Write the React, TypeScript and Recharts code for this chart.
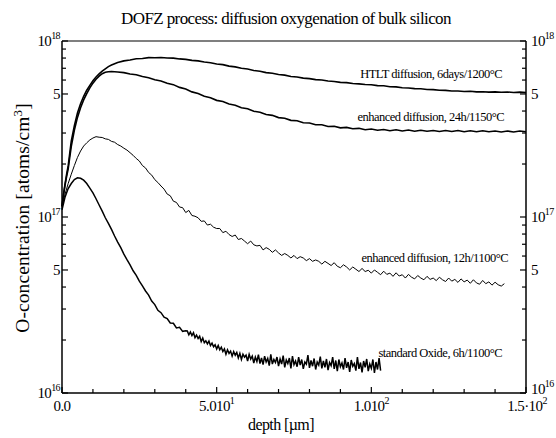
import React from 'react';
import { LineChart, Line, XAxis, YAxis } from 'recharts';

// depth in µm, O-concentration in units of 1e16 atoms/cm³
const topDepth = [
  0, 0.5, 1, 1.5, 2, 2.5, 3, 4, 5, 6, 7, 8, 9, 10, 11, 12, 13, 14, 15, 16,
  18, 20, 22, 24, 26, 28, 30, 32, 34, 36, 38, 40, 42, 44, 46, 48, 50, 52, 54, 56,
  58, 60, 62, 64, 66, 68, 70, 72, 74, 76, 78, 80, 82, 84, 86, 88, 90, 92, 94, 96,
  98, 100, 102, 104, 106, 108, 110, 112, 114, 116, 118, 120, 122, 124, 126, 128, 130, 132, 134, 136,
  138, 140, 142, 144, 146, 148, 150,
];

const htltValues = [
  11.5, 13.5, 15.5, 17.5, 19.5, 23, 27, 33, 39, 44, 48.5, 52.5, 56, 59.5, 62.5, 65, 67.5, 69.5, 71.5, 73,
  75.4, 77.1, 78.0, 79.3, 79.6, 80.4, 80.3, 80.6, 80.1, 79.9, 79.1, 78.6, 77.6, 77.1, 76.0, 75.3, 74.0, 73.4, 72.0, 71.3,
  70.0, 69.3, 68.0, 67.3, 66.1, 65.6, 64.5, 64.0, 62.9, 62.4, 61.5, 61.1, 60.3, 60.0, 59.2, 58.9, 58.2, 58.0, 57.3, 57.1,
  56.6, 56.4, 55.8, 55.7, 55.0, 54.9, 54.3, 54.1, 53.6, 53.5, 53.0, 52.9, 52.5, 52.4, 52.0, 52.0, 51.7, 51.8, 51.4, 51.5,
  51.2, 51.4, 51.1, 51.3, 51.0, 51.2, 50.9,
];

const enh24Values = [
  11.5, 13.4, 15.2, 17.0, 18.8, 21.8, 25.2, 31.2, 36.8, 41.8, 46.3, 50.3, 54.2, 57.6, 60.6, 63.2, 65.2, 66.4, 66.9, 67.1,
  66.6, 66.1, 65.0, 64.3, 62.8, 61.9, 60.3, 59.3, 57.6, 56.5, 54.5, 53.3, 51.4, 50.3, 48.5, 47.6, 46.0, 45.3, 43.8, 43.2,
  41.8, 41.2, 39.9, 39.4, 38.2, 37.8, 36.7, 36.4, 35.4, 35.2, 34.3, 34.2, 33.4, 33.4, 32.7, 32.8, 32.1, 32.3, 31.7, 31.9,
  31.3, 31.6, 31.1, 31.4, 30.9, 31.3, 30.8, 31.2, 30.7, 31.1, 30.7, 31.0, 30.6, 31.0, 30.6, 31.0, 30.5, 30.9, 30.5, 30.9,
  30.5, 30.8, 30.4, 30.8, 30.4, 30.8, 30.5,
];

// sampled every 1 µm from 0
const enh12Values = [
  11.5, 13.5, 15.5, 17.5, 19.6, 21.8, 23.7, 25.3, 26.4, 27.4,
  28.1, 28.6, 28.4, 28.3, 27.8, 27.6, 26.9, 26.6, 25.8, 25.3,
  24.6, 24.0, 23.2, 22.4, 21.5, 20.8, 19.6, 19.0, 17.9, 17.3,
  16.3, 15.7, 15.0, 14.4, 13.5, 13.2, 12.3, 12.1, 11.4, 11.3,
  10.6, 10.9, 10.2, 10.1, 9.9, 9.45, 9.5, 9.0, 9.1, 8.75,
  8.6, 8.6, 8.15, 8.3, 7.95, 7.75, 7.9, 7.45, 7.55, 7.3,
  7.05, 7.3, 6.95, 6.85, 6.9, 6.5, 6.7, 6.55, 6.3, 6.5,
  6.25, 6.05, 6.2, 6.05, 5.85, 6.05, 5.8, 5.95, 5.85, 5.65,
  5.8, 5.6, 5.7, 5.6, 5.4, 5.6, 5.45, 5.3, 5.5, 5.25,
  5.15, 5.35, 5.2, 5.0, 5.2, 5.05, 4.9, 5.1, 4.9, 4.98,
  4.8, 5.0, 4.85, 4.7, 4.92, 4.72, 4.8, 4.6, 4.82, 4.62,
  4.7, 4.5, 4.72, 4.55, 4.45, 4.65, 4.5, 4.4, 4.6, 4.42,
  4.5, 4.35, 4.55, 4.4, 4.3, 4.5, 4.32, 4.42, 4.25, 4.45,
  4.28, 4.38, 4.2, 4.4, 4.22, 4.15, 4.36, 4.18, 4.28, 4.1,
  4.26, 4.12, 4.05, 4.18,
];

// sampled every 1 µm up to 40 µm, then every 0.5 µm
const stdValues = [
  11.0, 13.0, 14.5, 15.5, 16.3, 16.7, 16.6, 16.2, 15.5, 14.6,
  13.7, 12.7, 11.7, 10.8, 9.9, 9.2, 8.5, 7.8, 7.2, 6.7,
  6.15, 5.72, 5.35, 4.95, 4.66, 4.32, 4.06, 3.8, 3.6, 3.33,
  3.18, 2.95, 2.86, 2.7, 2.65, 2.5, 2.49, 2.34, 2.36, 2.24,
  2.26,
  2.25, 2.14, 2.22, 2.12, 2.2, 2.06, 2.13, 2.04, 2.1, 1.96,
  2.05, 1.93, 1.98, 1.9, 1.97, 1.86, 1.92, 1.83, 1.88, 1.78,
  1.86, 1.76, 1.82, 1.72, 1.78, 1.66, 1.76, 1.68, 1.73, 1.62,
  1.72, 1.64, 1.7, 1.58, 1.68, 1.55, 1.66, 1.6, 1.64, 1.52,
  1.66, 1.56, 1.62, 1.48, 1.6, 1.51, 1.65, 1.47, 1.58, 1.45,
  1.62, 1.5, 1.57, 1.43, 1.66, 1.46, 1.55, 1.49, 1.6, 1.42,
  1.56, 1.46, 1.63, 1.4, 1.54, 1.47, 1.58, 1.38, 1.62, 1.45,
  1.52, 1.41, 1.6, 1.44, 1.55, 1.37, 1.5, 1.46, 1.64, 1.39,
  1.53, 1.42, 1.57, 1.36, 1.5, 1.44, 1.61, 1.38, 1.52, 1.4,
  1.56, 1.35, 1.49, 1.43, 1.6, 1.37, 1.53, 1.33, 1.55, 1.41,
  1.48, 1.36, 1.58, 1.39, 1.5, 1.32, 1.54, 1.42, 1.47, 1.34,
  1.6, 1.37, 1.49, 1.31, 1.52, 1.4, 1.56, 1.33, 1.46, 1.38,
  1.55, 1.3, 1.5, 1.36, 1.58, 1.34,
];

const xTicks = [0, 10, 20, 30, 40, 50, 60, 70, 80, 90, 100, 110, 120, 130, 140, 150];
const xLabels: Record<number, [string, string]> = { 0: ['0.0', ''], 50: ['5.010', '1'], 100: ['1.010', '2'], 150: ['1.5·10', '2'] };
const yTicks = [1, 2, 3, 4, 5, 6, 7, 8, 9, 10, 20, 30, 40, 50, 60, 70, 80, 90, 100];
const yLabels: Record<number, [string, string]> = { 1: ['10', '16'], 5: ['5', ''], 10: ['10', '17'], 50: ['5', ''], 100: ['10', '18'] };

const curveLabels = [
  { text: 'HTLT diffusion, 6days/1200°C', x: 502, y: 78 },
  { text: 'enhanced diffusion, 24h/1150°C', x: 504, y: 121 },
  { text: 'enhanced diffusion, 12h/1100°C', x: 508, y: 262 },
  { text: 'standard Oxide, 6h/1100°C', x: 502, y: 357 },
];

const FONT = '"Liberation Serif", "Times New Roman", serif';

const toRows = (depth: number[], values: number[]) => values.map((v, i) => ({ depth: depth[i], value: v }));

const htltData = toRows(topDepth, htltValues);
const enh24Data = toRows(topDepth, enh24Values);
const enh12Data = enh12Values.map((v, i) => ({ depth: i, value: v }));
const stdData = stdValues.map((v, i) => ({ depth: i <= 40 ? i : 40 + (i - 40) * 0.5, value: v }));

function PowLabel({ x, y, base, exp, anchor }: { x: number; y: number; base: string; exp: string; anchor: 'start' | 'middle' | 'end' }) {
  return (
    <text x={x} y={y} textAnchor={anchor} fontFamily={FONT} fontSize={15} fill="#000" letterSpacing={-0.6}>
      {base}
      {exp && <tspan dy={-7} fontSize={10}>{exp}</tspan>}
    </text>
  );
}

const tickLen = (v: number) => (v === 1 || v === 10 || v === 100 || v === 5 || v === 50 ? 6 : 4);

function LeftTick(props: any) {
  const { x, y, payload } = props;
  const v = payload.value;
  const lab = yLabels[v];
  return (
    <g>
      <line x1={x} x2={x + tickLen(v)} y1={y} y2={y} stroke="#000" strokeWidth={1.2} />
      {lab && <PowLabel x={x - 2} y={y + 5} base={lab[0]} exp={lab[1]} anchor="end" />}
    </g>
  );
}

function RightTick(props: any) {
  const { x, y, payload } = props;
  const v = payload.value;
  const lab = yLabels[v];
  return (
    <g>
      <line x1={x} x2={x - tickLen(v)} y1={y} y2={y} stroke="#000" strokeWidth={1.2} />
      {lab && <PowLabel x={x + 5} y={v === 1 ? y + 1 : y + 5} base={lab[0]} exp={lab[1]} anchor="start" />}
    </g>
  );
}

function BottomTick(props: any) {
  const { x, y, payload } = props;
  const v = payload.value;
  const lab = xLabels[v];
  const len = v % 50 === 0 ? 6 : 4;
  return (
    <g>
      <line x1={x} x2={x} y1={y} y2={y - len} stroke="#000" strokeWidth={1.2} />
      {lab && <PowLabel x={v === 150 ? x + 1 : x} y={y + 18} base={lab[0]} exp={lab[1]} anchor="middle" />}
    </g>
  );
}

function TopTick(props: any) {
  const { x, y, payload } = props;
  const len = payload.value % 50 === 0 ? 6 : 4;
  return <line x1={x} x2={x} y1={y} y2={y + len} stroke="#000" strokeWidth={1.2} />;
}

export default function App() {
  return (
    <div style={{ position: 'absolute', left: 0, top: 0, width: 556, height: 438, background: '#fff' }}>
      <LineChart width={556} height={438} margin={{ top: 40, right: 29, bottom: 44, left: 61 }}>
        <XAxis
          dataKey="depth"
          type="number"
          domain={[0, 150]}
          ticks={xTicks}
          interval={0}
          height={1}
          tickSize={0}
          tickMargin={0}
          tick={BottomTick}
          axisLine={{ stroke: '#000', strokeWidth: 1.5 }}
          allowDuplicatedCategory={false}
        />
        <XAxis
          xAxisId="top"
          orientation="top"
          dataKey="depth"
          type="number"
          domain={[0, 150]}
          ticks={xTicks}
          interval={0}
          height={1}
          tickSize={0}
          tickMargin={0}
          tick={TopTick}
          axisLine={{ stroke: '#000', strokeWidth: 1.2 }}
        />
        <YAxis
          scale="log"
          type="number"
          domain={[1, 100]}
          allowDataOverflow
          ticks={yTicks}
          interval={0}
          width={1}
          tickSize={0}
          tickMargin={0}
          tick={LeftTick}
          axisLine={{ stroke: '#000', strokeWidth: 1.5 }}
        />
        <YAxis
          yAxisId="right"
          orientation="right"
          scale="log"
          type="number"
          domain={[1, 100]}
          allowDataOverflow
          ticks={yTicks}
          interval={0}
          width={1}
          tickSize={0}
          tickMargin={0}
          tick={RightTick}
          axisLine={{ stroke: '#000', strokeWidth: 1.5 }}
        />
        <Line data={htltData} dataKey="value" stroke="#000" strokeWidth={1.6} dot={false} isAnimationActive={false} />
        <Line data={enh24Data} dataKey="value" stroke="#000" strokeWidth={1.6} dot={false} isAnimationActive={false} />
        <Line data={enh12Data} dataKey="value" stroke="#000" strokeWidth={1} dot={false} isAnimationActive={false} />
        <Line data={stdData} dataKey="value" stroke="#000" strokeWidth={1.5} dot={false} isAnimationActive={false} />
      </LineChart>
      <svg width={556} height={438} style={{ position: 'absolute', left: 0, top: 0, pointerEvents: 'none' }}>
        <text x={286} y={24} textAnchor="middle" fontFamily={FONT} fontSize={17} letterSpacing={-0.6} fill="#000">
          DOFZ process: diffusion oxygenation of bulk silicon
        </text>
        <text x={281} y={430} textAnchor="middle" fontFamily={FONT} fontSize={16} letterSpacing={-0.6} fill="#000">
          depth [µm]
        </text>
        <text
          x={0}
          y={0}
          transform="translate(29 218) rotate(-90)"
          textAnchor="middle"
          fontFamily={FONT}
          fontSize={19.5}
          letterSpacing={0.1}
          fill="#000"
        >
          O-concentration [atoms/cm<tspan dy={-7} fontSize={13}>3</tspan>
          <tspan dy={7}>]</tspan>
        </text>
        {curveLabels.map((c) => (
          <text key={c.text} x={c.x} y={c.y} textAnchor="end" fontFamily={FONT} fontSize={12.5} letterSpacing={-0.5} fill="#000">
            {c.text}
          </text>
        ))}
      </svg>
    </div>
  );
}
